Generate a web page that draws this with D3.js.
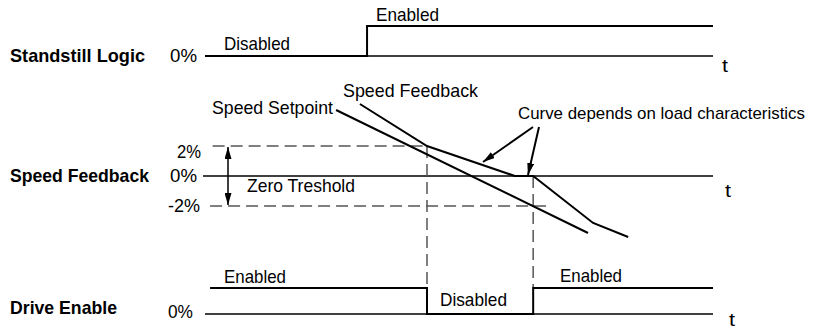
<!DOCTYPE html>
<html lang="en">
  <head>
    <meta charset="UTF-8" />
    <title>Standstill Logic Timing</title>
    <script src="https://d3js.org/d3.v7.min.js"></script>
    <style>
      body {
        margin: 0;
        background: #fff;
      }
      svg text {
        font-family: "Liberation Sans Narrow", "Liberation Sans", Arial, sans-serif;
        fill: #000;
      }
    </style>
  </head>
  <body>
    <svg id="chart" width="815" height="330"></svg>
    <script>
      // time axis in arbitrary units 0..100
      const standstillT = [0, 31.9, 31.9, 100];
      const standstillLevel = [0, 0, 1, 1];

      const driveT = [1, 43.7, 43.7, 64.6, 64.6, 100];
      const driveLevel = [1, 1, 0, 0, 1, 1];

      const setpointT = [25.8, 75.4];
      const setpointPct = [4.4, -3.8];

      const feedbackT = [30.5, 43.7, 61, 64.6, 76.4, 83.3];
      const feedbackPct = [4.8, 2, 0, 0, -3.13, -4.07];

      const thresholdPct = [2, 0, -2];
      const thresholdLabels = ["2%", "0%", "-2%"];
      const upperDashEnd = 43.7;
      const lowerDashEnd = 67.2;
      const cutT = [43.7, 64.6];

      const svg = d3.select("#chart");

      const x = d3.scaleLinear().domain([0, 100]).range([205, 713]);
      const yStand = d3.scaleLinear().domain([0, 1]).range([56, 26]);
      const ySpeed = d3.scaleLinear().domain([0, 2]).range([176, 146]);
      const yDrive = d3.scaleLinear().domain([0, 1]).range([314, 288]);

      const line = d3.line();

      function label(txt, px, py, len, opts = {}) {
        svg
          .append("text")
          .attr("x", px)
          .attr("y", py)
          .attr("font-size", opts.size || 19)
          .attr("font-weight", opts.bold ? "bold" : null)
          .attr("textLength", len)
          .attr("lengthAdjust", "spacingAndGlyphs")
          .text(txt);
      }

      // ---- Standstill Logic ----
      svg
        .append("line")
        .attr("x1", x(0))
        .attr("x2", x(100))
        .attr("y1", yStand(0))
        .attr("y2", yStand(0))
        .attr("stroke", "#000")
        .attr("stroke-width", 1.5);

      svg
        .append("path")
        .attr("d", line(standstillT.map((t, i) => [x(t), yStand(standstillLevel[i])])))
        .attr("fill", "none")
        .attr("stroke", "#000")
        .attr("stroke-width", 2);

      label("Standstill  Logic", 10, 62, 135, { bold: true });
      label("0%", 170, 62, 27);
      label("Disabled", 224, 50, 66);
      label("Enabled", 376, 21, 63);
      label("t", 722, 72, 6);

      // ---- Speed Feedback ----
      svg
        .append("line")
        .attr("x1", x(-0.4))
        .attr("x2", x(100))
        .attr("y1", ySpeed(0))
        .attr("y2", ySpeed(0))
        .attr("stroke", "#000")
        .attr("stroke-width", 1.3);

      const dashColor = "#555";
      // threshold dashes
      svg
        .append("line")
        .attr("x1", x(1.5))
        .attr("x2", x(upperDashEnd))
        .attr("y1", ySpeed(thresholdPct[0]))
        .attr("y2", ySpeed(thresholdPct[0]))
        .attr("stroke", dashColor)
        .attr("stroke-width", 1.5)
        .attr("stroke-dasharray", "12,6");
      svg
        .append("line")
        .attr("x1", x(1))
        .attr("x2", x(lowerDashEnd))
        .attr("y1", ySpeed(thresholdPct[2]))
        .attr("y2", ySpeed(thresholdPct[2]))
        .attr("stroke", dashColor)
        .attr("stroke-width", 1.5)
        .attr("stroke-dasharray", "12,6");

      // vertical cut lines down to drive enable
      svg
        .append("line")
        .attr("x1", x(cutT[0]))
        .attr("x2", x(cutT[0]))
        .attr("y1", ySpeed(2))
        .attr("y2", yDrive(1))
        .attr("stroke", dashColor)
        .attr("stroke-width", 1.5)
        .attr("stroke-dasharray", "12,6");
      svg
        .append("line")
        .attr("x1", x(cutT[1]))
        .attr("x2", x(cutT[1]))
        .attr("y1", ySpeed(0))
        .attr("y2", yDrive(1))
        .attr("stroke", dashColor)
        .attr("stroke-width", 1.5)
        .attr("stroke-dasharray", "12,6");

      // arrow marker
      const defs = svg.append("defs");
      defs
        .append("marker")
        .attr("id", "head2")
        .attr("viewBox", "0 0 10 10")
        .attr("refX", 10)
        .attr("refY", 5)
        .attr("markerWidth", 12)
        .attr("markerHeight", 7)
        .attr("markerUnits", "userSpaceOnUse")
        .attr("orient", "auto-start-reverse")
        .attr("preserveAspectRatio", "none")
        .append("path")
        .attr("d", "M0,0L10,5L0,10z")
        .attr("fill", "#000");

      // zero threshold double arrow
      svg
        .append("line")
        .attr("x1", 228)
        .attr("x2", 228)
        .attr("y1", ySpeed(thresholdPct[0]) + 1)
        .attr("y2", ySpeed(thresholdPct[2]) - 1)
        .attr("stroke", "#000")
        .attr("stroke-width", 1.5)
        .attr("marker-start", "url(#head2)")
        .attr("marker-end", "url(#head2)");

      // speed curves
      svg
        .append("path")
        .attr("d", line(setpointT.map((t, i) => [x(t), ySpeed(setpointPct[i])])))
        .attr("fill", "none")
        .attr("stroke", "#000")
        .attr("stroke-width", 2);
      svg
        .append("path")
        .attr("d", line(feedbackT.map((t, i) => [x(t), ySpeed(feedbackPct[i])])))
        .attr("fill", "none")
        .attr("stroke", "#000")
        .attr("stroke-width", 2);

      // annotation arrows
      svg
        .append("line")
        .attr("x1", 533)
        .attr("y1", 127)
        .attr("x2", 483)
        .attr("y2", 162)
        .attr("stroke", "#000")
        .attr("stroke-width", 2)
        .attr("marker-end", "url(#head2)");
      svg
        .append("line")
        .attr("x1", 539)
        .attr("y1", 127)
        .attr("x2", 528)
        .attr("y2", 175)
        .attr("stroke", "#000")
        .attr("stroke-width", 2)
        .attr("marker-end", "url(#head2)");

      label("Speed Feedback", 10, 182, 139, { bold: true });
      label(thresholdLabels[0], 177, 158, 24);
      label(thresholdLabels[1], 170, 182, 27);
      label(thresholdLabels[2], 168, 212, 32);
      label("Zero Treshold", 247, 192, 108);
      label("Speed Setpoint", 212, 114, 121);
      label("Speed Feedback", 343, 97, 135);
      label("Curve depends on load characteristics", 518, 119, 287, { size: 17 });
      label("t", 725, 197, 6);

      // ---- Drive Enable ----
      svg
        .append("line")
        .attr("x1", x(0))
        .attr("x2", x(100))
        .attr("y1", yDrive(0))
        .attr("y2", yDrive(0))
        .attr("stroke", "#000")
        .attr("stroke-width", 1.5);
      svg
        .append("path")
        .attr("d", line(driveT.map((t, i) => [x(t), yDrive(driveLevel[i])])))
        .attr("fill", "none")
        .attr("stroke", "#000")
        .attr("stroke-width", 2);

      label("Drive Enable", 10, 314, 107, { bold: true });
      label("0%", 168, 318, 25);
      label("Enabled", 224, 283, 62);
      label("Disabled", 440, 306, 67);
      label("Enabled", 560, 282, 62);
      label("t", 729, 326, 6, { size: 18 });
    </script>
  </body>
</html>
